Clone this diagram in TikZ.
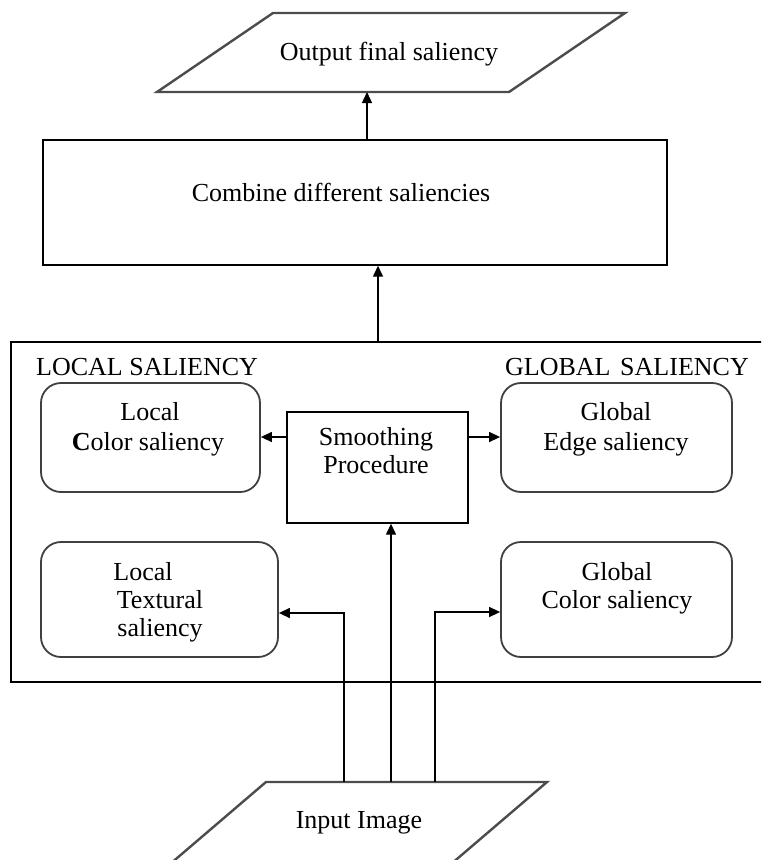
\documentclass[tikz,border=0pt]{standalone}
\usepackage{fontspec}
\setmainfont{Liberation Serif}
\usetikzlibrary{arrows.meta}
\begin{document}
\begin{tikzpicture}[x=1pt,y=-1pt,
  txt/.style={font=\fontsize{26}{30}\selectfont, inner sep=0pt, anchor=base},
  sqbox/.style={draw=black, line width=1.4pt, inner sep=0pt},
  rbox/.style={draw=black!75, line width=1.8pt, rounded corners=20pt, inner sep=0pt},
  para/.style={draw=black!70, line width=2.4pt, line join=miter},
  conn/.style={line width=1.4pt, -{Triangle[length=11pt,width=10pt]}},
  plain/.style={line width=1.4pt}]
\useasboundingbox (0,0) rectangle (761,860);
\clip (0,0) rectangle (761,860);

% output
\draw[para] (273,13) -- (625,13) -- (509,92) -- (157,92) -- cycle;
\coordinate (outbot) at (367,92);
\node[txt] (out) at (389,60) {Output final saliency};

% combine
\node[sqbox, minimum width=624pt, minimum height=125pt] (comb) at (355,202.5) {};
\node[txt] (combtxt) at (341,201) {Combine different saliencies};
\draw[conn] (comb.north -| outbot) -- (outbot);

% big box
\node[sqbox, minimum width=752pt, minimum height=340pt] (big) at (387,512) {};
\coordinate (bigtop) at (378,342);
\draw[conn] (bigtop) -- (bigtop |- comb.south);

\node[txt, anchor=base west] (loclab) at (36,375) {LOCAL SALIENCY};
\node[txt, anchor=base west] (glolab) at (505,375) {GLOBAL\hspace{0.12em} SALIENCY};

% inner boxes
\node[rbox, minimum width=219pt, minimum height=109pt] (lc) at (150.5,437.5) {};
\node[sqbox, minimum width=181pt, minimum height=111pt] (sm) at (377.5,467.5) {};
\node[rbox, minimum width=231pt, minimum height=109pt] (ge) at (616.5,437.5) {};
\node[rbox, minimum width=237pt, minimum height=115pt] (lt) at (159.5,599.5) {};
\node[rbox, minimum width=231pt, minimum height=115pt] (gc) at (616.5,599.5) {};

\node[txt] (lc1) at (150,420) {Local};
\node[txt] (lc2) at (148,450) {\textbf{C}olor saliency};
\node[txt] (sm1) at (376,445) {Smoothing};
\node[txt] (sm2) at (376,473) {Procedure};
\node[txt] (ge1) at (616,420) {Global};
\node[txt] (ge2) at (616,450) {Edge saliency};
\node[txt] (lt1) at (143,580) {Local};
\node[txt] (lt2) at (160,608) {Textural};
\node[txt] (lt3) at (160,636) {saliency};
\node[txt] (gc1) at (617,580) {Global};
\node[txt] (gc2) at (617,608) {Color saliency};

% input
\draw[para] (128,900) -- (266,782) -- (547,782) -- (409,900);
\node[txt] (in) at (359,828) {Input Image};
\coordinate (inA) at (344,782);
\coordinate (inB) at (391,782);
\coordinate (inC) at (435,782);
\coordinate (ltin) at (0,613);
\coordinate (gcin) at (0,612);
\coordinate (smy) at (0,437);

% connectors
\draw[conn] (inA) |- (lt.east |- ltin);
\draw[conn] (inB) -- (inB |- sm.south);
\draw[conn] (inC) |- (gc.west |- gcin);
\draw[conn] (sm.west |- smy) -- (lc.east |- smy);
\draw[conn] (sm.east |- smy) -- (ge.west |- smy);
\end{tikzpicture}
\end{document}
